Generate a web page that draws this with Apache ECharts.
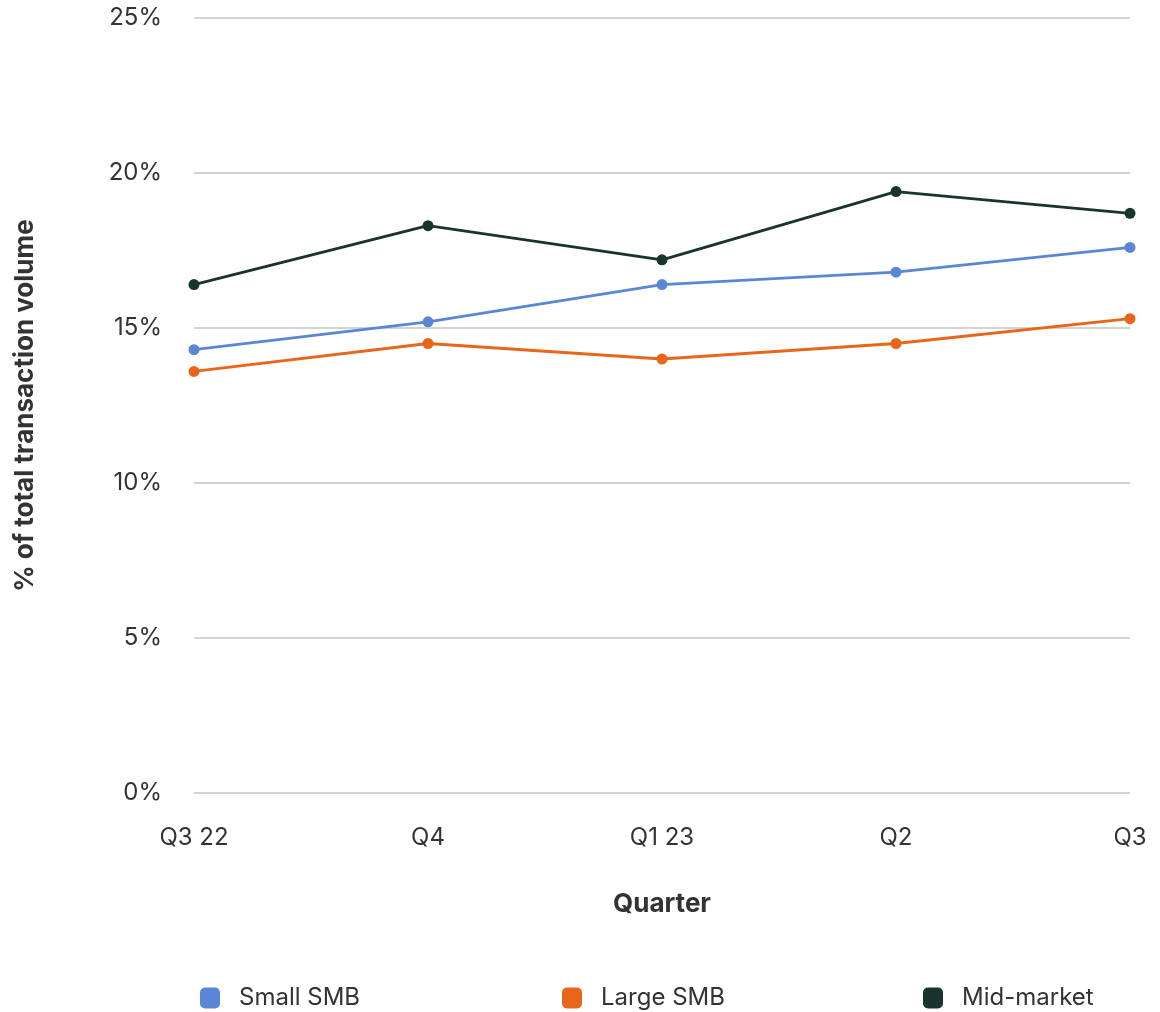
<!DOCTYPE html>
<html>
<head>
<meta charset="utf-8">
<script src="https://cdn.jsdelivr.net/npm/echarts@6/dist/echarts.min.js"></script>
<style>
  html, body { margin: 0; padding: 0; background: #fff; }
  #chart { width: 1160px; height: 1012px; }
</style>
</head>
<body>
<div id="chart"></div>
<script>
// Quarterly share of total transaction volume by customer segment
const quarters = ['Q3 22', 'Q4', 'Q1 23', 'Q2', 'Q3'];
const smallSMB = [14.3, 15.2, 16.4, 16.8, 17.6];
const largeSMB = [13.6, 14.5, 14.0, 14.5, 15.3];
const midMarket = [16.4, 18.3, 17.2, 19.4, 18.7];
const yTicks = [0, 5, 10, 15, 20, 25];

const FONT = 'Inter, "Liberation Sans", sans-serif';
const TEXT = '#333333';

const seriesDefs = [
  { name: 'Small SMB', data: smallSMB, color: '#5b86d6' },
  { name: 'Large SMB', data: largeSMB, color: '#e8661a' },
  { name: 'Mid-market', data: midMarket, color: '#17352c' }
];

// one legend block per series, spread evenly along the bottom
const legendLefts = [195, 557, 918];

const chart = echarts.init(document.getElementById('chart'), null, { renderer: 'canvas' });

chart.setOption({
  animation: false,
  backgroundColor: '#ffffff',
  grid: { left: 194, right: 30, top: 18, bottom: 219, containLabel: false },
  xAxis: {
    type: 'category',
    data: quarters,
    boundaryGap: false,
    name: 'Quarter',
    nameLocation: 'middle',
    nameGap: 98,
    nameTextStyle: { fontFamily: FONT, fontSize: 26, fontWeight: 'bold', color: TEXT },
    axisLine: { show: false },
    axisTick: { show: false },
    axisLabel: { margin: 33, fontFamily: FONT, fontSize: 24, color: TEXT, interval: 0 }
  },
  yAxis: {
    type: 'value',
    min: yTicks[0],
    max: yTicks[yTicks.length - 1],
    interval: 5,
    name: '% of total transaction volume',
    nameLocation: 'middle',
    nameGap: 156,
    nameTextStyle: { fontFamily: FONT, fontSize: 26, fontWeight: 'bold', color: TEXT },
    axisLine: { show: false },
    axisTick: { show: false },
    axisLabel: { margin: 32, fontFamily: FONT, fontSize: 24, color: TEXT, formatter: v => v + '%' },
    splitLine: { lineStyle: { color: '#d3d3d3', width: 2 } }
  },
  legend: seriesDefs.map((s, i) => ({
    bottom: -3,
    left: legendLefts[i],
    itemWidth: 20,
    itemHeight: 21,
    icon: 'roundRect',
    textStyle: { fontFamily: FONT, fontSize: 24, color: TEXT, padding: [0, 0, 0, 14] },
    data: [s.name]
  })),
  series: seriesDefs.map(s => ({
    name: s.name,
    type: 'line',
    data: s.data,
    color: s.color,
    symbol: 'circle',
    symbolSize: 11,
    lineStyle: { width: 2.8, color: s.color },
    itemStyle: { color: s.color }
  }))
});
</script>
</body>
</html>
